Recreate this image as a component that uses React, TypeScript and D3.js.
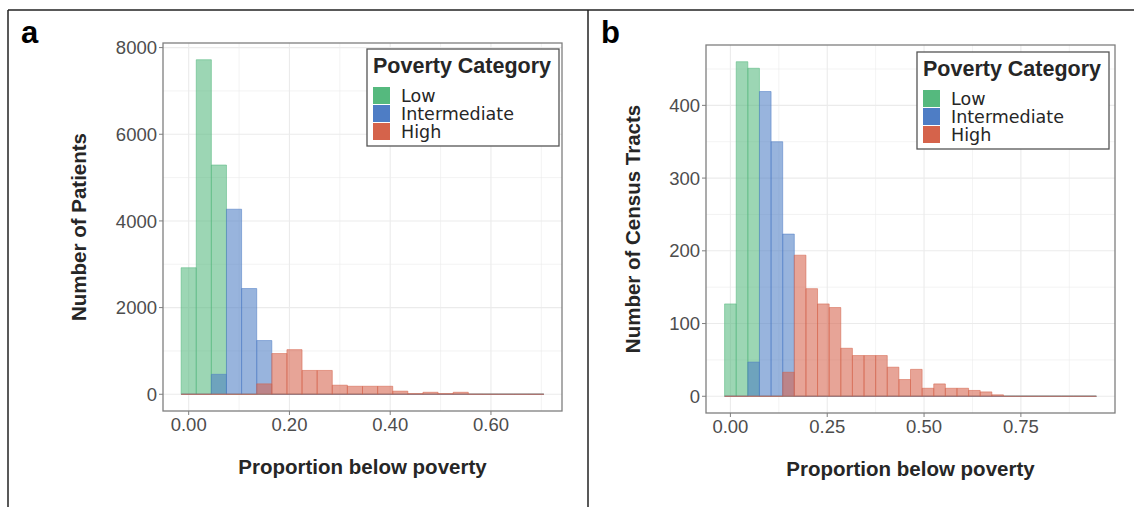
import React from 'react';
import * as d3 from 'd3';

// bin centres are 0, 0.03, 0.06, ... (binwidth 0.03)
const binWidth = 0.03;

// panel a: patients
const patientsLow = [2920, 7720, 5290, 0, 0, 0, 0, 0, 0, 0, 0, 0, 0, 0, 0, 0, 0, 0, 0, 0, 0, 0, 0, 0];
const patientsIntermediate = [0, 0, 460, 4270, 2440, 1240, 0, 0, 0, 0, 0, 0, 0, 0, 0, 0, 0, 0, 0, 0, 0, 0, 0, 0];
const patientsHigh = [0, 0, 0, 0, 0, 240, 940, 1030, 550, 550, 210, 185, 185, 185, 72, 16, 46, 16, 46, 4, 3, 2, 2, 2];

// panel b: census tracts
const tractsLow = [127, 460, 451, 0, 0, 0, 0, 0, 0, 0, 0, 0, 0, 0, 0, 0, 0, 0, 0, 0, 0, 0, 0, 0, 0, 0, 0, 0, 0, 0, 0, 0];
const tractsIntermediate = [0, 0, 47, 419, 350, 223, 0, 0, 0, 0, 0, 0, 0, 0, 0, 0, 0, 0, 0, 0, 0, 0, 0, 0, 0, 0, 0, 0, 0, 0, 0, 0];
const tractsHigh = [0, 0, 0, 0, 0, 33, 194, 148, 127, 122, 66, 56, 56, 56, 40, 23, 37, 11, 17, 11, 11, 8, 6, 2, 0, 0, 0, 0, 0, 0, 0, 0];

const categories = ['Low', 'Intermediate', 'High'];
const colors = ['#55b97e', '#4e7dc5', '#d5634b'];

const aXTicks = [0, 0.2, 0.4, 0.6];
const aYTicks = [0, 2000, 4000, 6000, 8000];
const bXTicks = [0, 0.25, 0.5, 0.75];
const bYTicks = [0, 100, 200, 300, 400];

const tickFont = '"Liberation Sans", Arial, Helvetica, sans-serif';
const legendFont = '"DejaVu Sans", Verdana, sans-serif';

function minors(ticks: number[]) {
  const step = ticks[1] - ticks[0];
  const out = [ticks[0] - step / 2];
  ticks.forEach(t => out.push(t + step / 2));
  return out;
}

function Panel({ letter, series, xTicks, yTicks, xFmt, yTitle, box, legend, yTitleX, letterX }: any) {
  const n = series[0].length;
  const lo = -binWidth / 2;
  const hi = (n - 1) * binWidth + binWidth / 2;
  const xr = hi - lo;
  const x = d3.scaleLinear().domain([lo - 0.05 * xr, hi + 0.05 * xr]).range([box.left, box.right]);
  const ymax = d3.max(series.flat() as number[]) as number;
  const y = d3.scaleLinear().domain([-0.05 * ymax, ymax * 1.05]).range([box.bottom, box.top]);
  const [x0, x1] = x.domain();
  const [y0, y1] = y.domain();
  const xMin = minors(xTicks).filter(v => v >= x0 && v <= x1);
  const yMin = minors(yTicks).filter(v => v >= y0 && v <= y1);

  // path so that empty bins still show as a line on the baseline
  const barPath = (i: number, v: number) => {
    const c = i * binWidth;
    const p = d3.path();
    p.rect(x(c - binWidth / 2), y(v), x(c + binWidth / 2) - x(c - binWidth / 2), y(0) - y(v));
    return p.toString();
  };

  return (
    <g>
      <text x={letterX} y={43} fontFamily={tickFont} fontWeight="bold" fontSize={31} fill="#000">{letter}</text>
      {/* grid */}
      {xMin.map(v => <line key={'xm' + v} x1={x(v)} x2={x(v)} y1={box.top} y2={box.bottom} stroke="#ebebeb" strokeWidth={0.6} />)}
      {yMin.map(v => <line key={'ym' + v} x1={box.left} x2={box.right} y1={y(v)} y2={y(v)} stroke="#ebebeb" strokeWidth={0.6} />)}
      {xTicks.map((v: number) => <line key={'xg' + v} x1={x(v)} x2={x(v)} y1={box.top} y2={box.bottom} stroke="#ebebeb" strokeWidth={1.1} />)}
      {yTicks.map((v: number) => <line key={'yg' + v} x1={box.left} x2={box.right} y1={y(v)} y2={y(v)} stroke="#ebebeb" strokeWidth={1.1} />)}
      {/* bars */}
      {series.map((vals: number[], si: number) => (
        <g key={si}>
          {vals.map((v, i) => (
            <path key={i} d={barPath(i, v)}
              fill={colors[si]} fillOpacity={0.58} stroke={colors[si]} strokeOpacity={0.6} strokeWidth={0.9} />
          ))}
        </g>
      ))}
      {/* border */}
      <rect x={box.left} y={box.top} width={box.right - box.left} height={box.bottom - box.top} fill="none" stroke="#7f7f7f" strokeWidth={1.3} />
      {/* axes */}
      {yTicks.map((v: number) => (
        <g key={'yt' + v}>
          <line x1={box.left - 4} x2={box.left} y1={y(v)} y2={y(v)} stroke="#7f7f7f" strokeWidth={1} />
          <text x={box.left - 6} y={y(v)} dy="0.36em" textAnchor="end" fontFamily={tickFont} fontSize={18.5} fill="#4d4d4d">{v}</text>
        </g>
      ))}
      {xTicks.map((v: number) => (
        <g key={'xt' + v}>
          <line x1={x(v)} x2={x(v)} y1={box.bottom} y2={box.bottom + 4} stroke="#7f7f7f" strokeWidth={1} />
          <text x={x(v)} y={box.bottom + 20} textAnchor="middle" fontFamily={tickFont} fontSize={18.5} fill="#4d4d4d">{xFmt(v)}</text>
        </g>
      ))}
      <text x={(box.left + box.right) / 2} y={box.bottom + 63} textAnchor="middle" fontFamily={tickFont} fontWeight="bold" fontSize={20.5} fill="#262626">Proportion below poverty</text>
      <text transform={`translate(${yTitleX},${(box.top + box.bottom) / 2}) rotate(-90)`} textAnchor="middle" fontFamily={tickFont} fontWeight="bold" fontSize={20.5} fill="#262626">{yTitle}</text>
      {/* legend */}
      <g transform={`translate(${legend.x},${legend.y})`}>
        <rect x={0} y={0} width={192} height={97} fill="#fff" stroke="#555" strokeWidth={1.3} />
        <text x={6} y={24} fontFamily={tickFont} fontWeight="bold" fontSize={21.5} fill="#262626">Poverty Category</text>
        {categories.map((cat, i) => (
          <g key={cat} transform={`translate(6,${38 + i * 18})`}>
            <rect x={0} y={0} width={17} height={17} fill={colors[i]} />
            <text x={28} y={8.5} dy="0.36em" fontFamily={legendFont} fontSize={17.5} fill="#262626">{cat}</text>
          </g>
        ))}
      </g>
    </g>
  );
}

export default function App() {
  return (
    <svg width={1134} height={507} style={{ position: 'absolute', left: 0, top: 0, background: '#fff' }}>
      <rect x={0} y={0} width={1134} height={507} fill="#fff" />
      <line x1={8} x2={1134} y1={10} y2={10} stroke="#222" strokeWidth={1.5} />
      <line x1={8} x2={8} y1={10} y2={507} stroke="#222" strokeWidth={1.5} />
      <line x1={588} x2={588} y1={10} y2={507} stroke="#222" strokeWidth={1.5} />
      <Panel letter="a" letterX={21}
        series={[patientsLow, patientsIntermediate, patientsHigh]}
        xTicks={aXTicks} yTicks={aYTicks} xFmt={d3.format('.2f')}
        yTitle="Number of Patients" yTitleX={86}
        box={{ left: 163, right: 562, top: 43, bottom: 411 }}
        legend={{ x: 367, y: 49 }} />
      <Panel letter="b" letterX={601}
        series={[tractsLow, tractsIntermediate, tractsHigh]}
        xTicks={bXTicks} yTicks={bYTicks} xFmt={d3.format('.2f')}
        yTitle="Number of Census Tracts" yTitleX={640}
        box={{ left: 706, right: 1115, top: 45, bottom: 413 }}
        legend={{ x: 917, y: 52 }} />
    </svg>
  );
}
